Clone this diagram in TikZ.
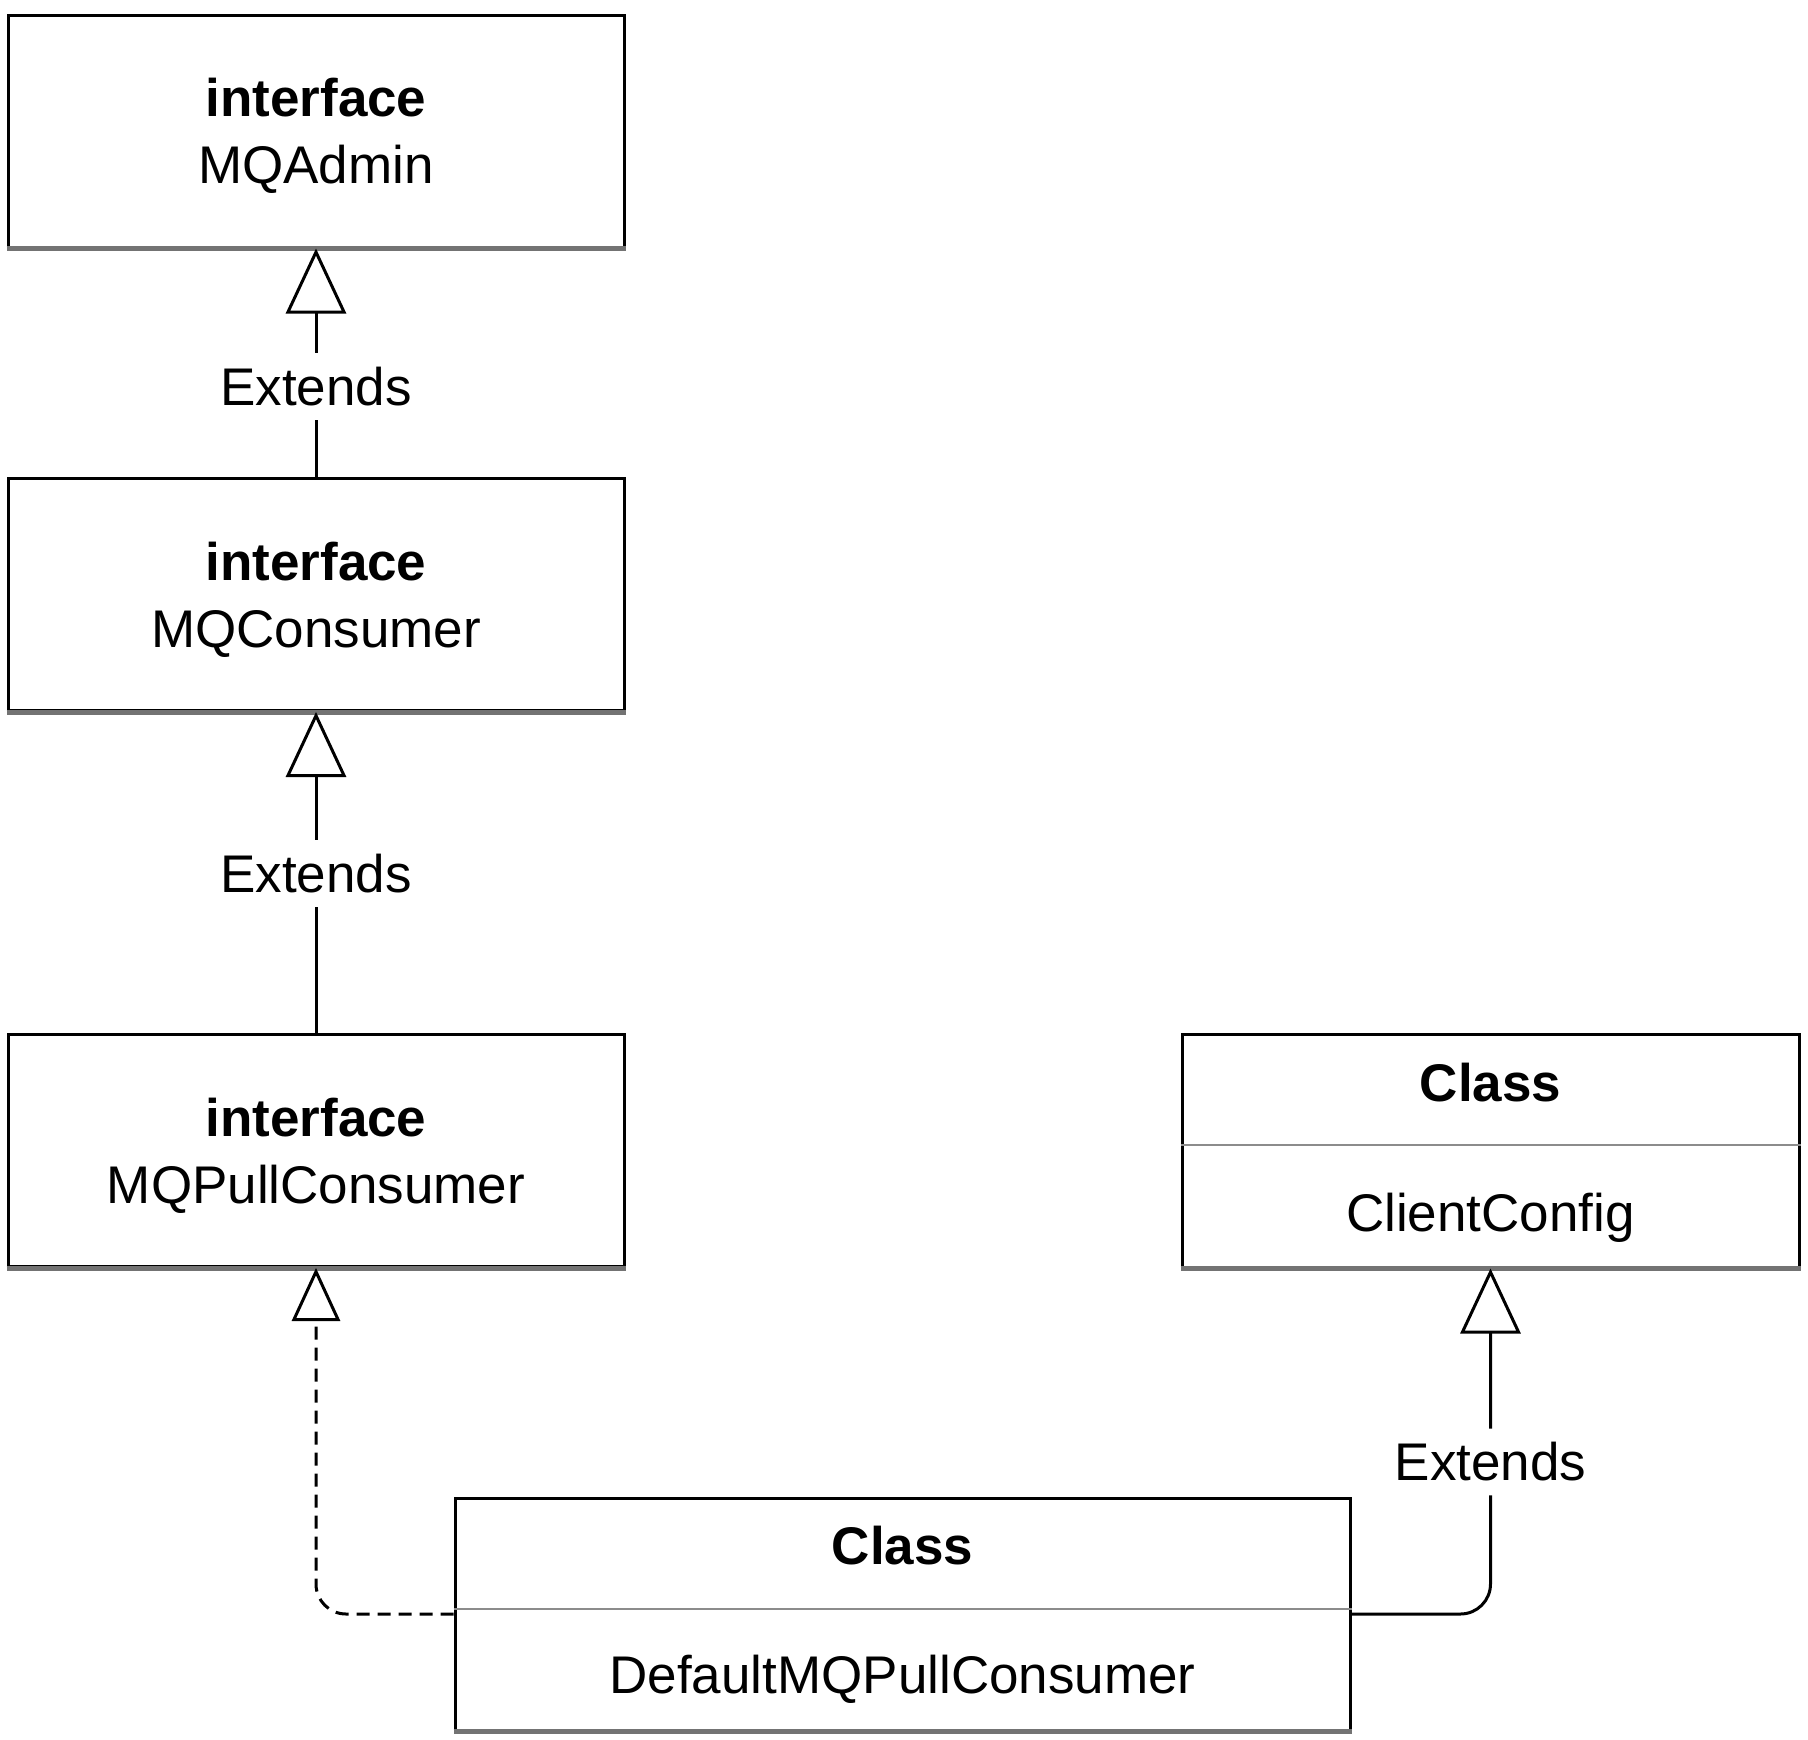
\documentclass[tikz,border=0pt]{standalone}
\usepackage{fontspec}
\setmainfont{Liberation Sans}
\usetikzlibrary{arrows.meta}
\begin{document}
\begin{tikzpicture}[x=1pt,y=-1pt,
  umlbox/.style={draw=black, line width=3pt, inner sep=0pt, fill=white, align=center,
    font=\fontsize{53}{67}\selectfont},
  boxtxt/.style={inner sep=0pt, anchor=base, font=\fontsize{53}{64}\selectfont},
  lbl/.style={fill=white, inner sep=14pt, font=\fontsize{53}{62}\selectfont},
  shade/.style={draw=black!55, line width=5pt},
  divider/.style={draw=black!45, line width=2.5pt},
  ext/.style={draw=black, line width=3pt, -{Triangle[open, length=65pt, width=60pt, fill=white]}},
  impl/.style={draw=black, line width=3pt, dash pattern=on 13pt off 8pt,
    -{Triangle[open, length=53pt, width=48pt, fill=white]}}
]
\useasboundingbox (0,0) rectangle (1808,1740);

% interface boxes
\node[umlbox, minimum width=616pt, minimum height=232pt] (mqa) at (316,131) {};
\node[umlbox, minimum width=616pt, minimum height=232pt] (mqc) at (316,594.5) {};
\node[umlbox, minimum width=616pt, minimum height=232pt] (mqp) at (316,1150.5) {};
\node[align=center, inner sep=0pt, font=\fontsize{53}{67}\selectfont] (mqat) at (316,136)
  {\textbf{interface}\\MQAdmin};
\node[align=center, inner sep=0pt, font=\fontsize{53}{67}\selectfont] (mqct) at (316,599.5)
  {\textbf{interface}\\MQConsumer};
\node[align=center, inner sep=0pt, font=\fontsize{53}{67}\selectfont] (mqpt) at (316,1155.5)
  {\textbf{interface}\\MQPullConsumer};

% class boxes
\node[umlbox, minimum width=617pt, minimum height=233pt] (cc) at (1490.5,1150.5) {};
\node[umlbox, minimum width=895pt, minimum height=232pt] (dmq) at (902.5,1614) {};

% bottom shading lines
\foreach \b in {mqa,mqc,mqp,cc,dmq}{
  \draw[shade] (\b.south west) -- (\b.south east);
}

% dividers
\draw[divider] (cc.west |- 0,1145) -- (cc.east |- 0,1145);
\draw[divider] (dmq.west |- 0,1609) -- (dmq.east |- 0,1609);

% class texts
\node[boxtxt] (cct) at (1490.5,1101) {\textbf{Class}};
\node[boxtxt] (ccn) at (1490.5,1231) {ClientConfig};
\node[boxtxt] (dmqt) at (902.5,1564) {\textbf{Class}};
\node[boxtxt] (dmqn) at (902.5,1693) {DefaultMQPullConsumer};

% connectors
\draw[ext] (mqc.north) -- node[lbl, pos=0.397] (l1) {Extends} (mqa.south);
\draw[ext] (mqp.north) -- node[lbl, pos=0.497] (l2) {Extends} (mqc.south);
\draw[ext, rounded corners=30pt] (dmq.east) -| node[lbl, pos=0.72] (l3) {Extends} (cc.south);
\draw[impl, rounded corners=30pt] (dmq.west) -| (mqp.south);

\end{tikzpicture}
\end{document}
